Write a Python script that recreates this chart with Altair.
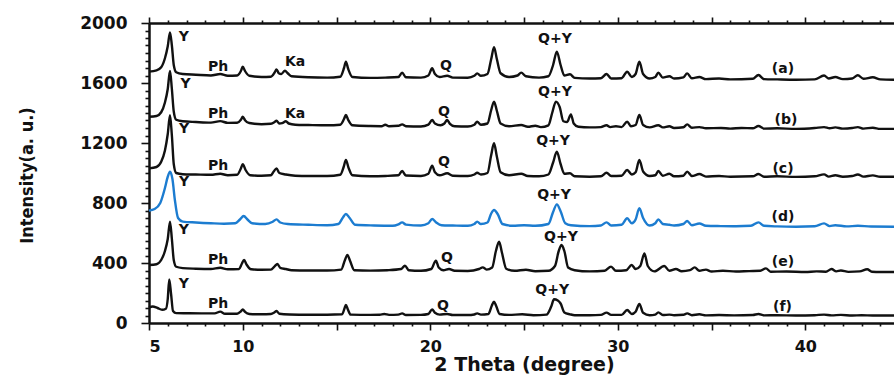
import altair as alt
import pandas as pd

# XRD patterns (2-theta in degrees, intensity in a.u., already offset for stacking)
TRACE_A = [
    (5.0, 1676), (5.4, 1684), (5.65, 1705), (5.85, 1765), (6.0, 1845), (6.12, 1937), (6.22, 1850),
    (6.32, 1720), (6.45, 1672), (6.8, 1660), (7.5, 1655), (8.3, 1650), (8.8, 1660), (9.2, 1648),
    (9.7, 1650), (9.9, 1680), (10.0, 1709), (10.12, 1680), (10.35, 1648), (11.0, 1640), (11.5, 1642),
    (11.7, 1670), (11.8, 1691), (11.92, 1665), (12.05, 1660), (12.25, 1682), (12.4, 1665), (12.6, 1645),
    (13.5, 1638), (14.5, 1636), (15.2, 1642), (15.4, 1700), (15.5, 1742), (15.62, 1695), (15.85, 1640),
    (16.8, 1634), (17.6, 1636), (18.3, 1640), (18.5, 1669), (18.7, 1638), (19.5, 1636), (19.9, 1650),
    (20.1, 1698), (20.25, 1660), (20.5, 1640), (20.9, 1648), (21.2, 1636), (22.0, 1635), (22.35, 1648),
    (22.5, 1664), (22.7, 1648), (23.05, 1660), (23.25, 1760), (23.4, 1838), (23.55, 1760), (23.75, 1665),
    (24.2, 1640), (24.65, 1650), (24.85, 1669), (25.1, 1645), (25.8, 1636), (26.3, 1645), (26.55, 1720),
    (26.75, 1809), (26.95, 1720), (27.15, 1650), (27.45, 1658), (27.7, 1634), (28.5, 1630), (29.1, 1632),
    (29.4, 1660), (29.65, 1630), (30.2, 1632), (30.5, 1675), (30.75, 1640), (30.95, 1660), (31.15, 1742),
    (31.35, 1660), (31.7, 1630), (32.0, 1640), (32.16, 1669), (32.4, 1636), (32.75, 1645), (33.0, 1630),
    (33.5, 1638), (33.7, 1664), (33.95, 1632), (34.35, 1640), (34.7, 1626), (35.4, 1630), (36.0, 1624),
    (37.2, 1628), (37.5, 1653), (37.8, 1626), (38.5, 1624), (39.5, 1622), (40.5, 1624), (41.0, 1650),
    (41.25, 1630), (41.6, 1640), (42.0, 1626), (42.5, 1630), (42.8, 1652), (43.1, 1628), (43.6, 1638),
    (44.0, 1624), (44.73, 1622),
]

TRACE_B = [
    (5.0, 1375), (5.4, 1380), (5.65, 1405), (5.85, 1470), (6.0, 1560), (6.12, 1680), (6.22, 1560),
    (6.32, 1410), (6.45, 1355), (6.8, 1345), (7.5, 1340), (8.3, 1336), (8.8, 1346), (9.2, 1334),
    (9.7, 1335), (9.9, 1355), (10.0, 1375), (10.12, 1352), (10.35, 1333), (11.0, 1325), (11.5, 1328),
    (11.7, 1340), (11.8, 1349), (11.95, 1330), (12.1, 1332), (12.3, 1345), (12.45, 1330), (12.8, 1322),
    (13.5, 1320), (14.5, 1318), (15.2, 1322), (15.4, 1360), (15.5, 1387), (15.62, 1355), (15.85, 1318),
    (16.8, 1313), (17.4, 1312), (17.6, 1322), (17.8, 1312), (18.3, 1315), (18.5, 1324), (18.7, 1312),
    (19.5, 1310), (19.9, 1322), (20.1, 1353), (20.25, 1330), (20.55, 1318), (20.75, 1330), (20.9, 1353),
    (21.05, 1328), (21.3, 1312), (22.0, 1310), (22.35, 1322), (22.5, 1342), (22.7, 1322), (23.05, 1330),
    (23.25, 1420), (23.4, 1476), (23.55, 1415), (23.75, 1330), (24.2, 1312), (24.85, 1320), (25.2, 1308),
    (25.6, 1315), (25.9, 1306), (26.3, 1318), (26.5, 1400), (26.7, 1476), (26.9, 1440), (27.1, 1345),
    (27.3, 1340), (27.5, 1391), (27.65, 1330), (27.9, 1308), (28.5, 1304), (29.1, 1306), (29.4, 1318),
    (29.6, 1306), (29.9, 1312), (30.2, 1306), (30.5, 1342), (30.7, 1312), (30.95, 1320), (31.15, 1387),
    (31.35, 1320), (31.7, 1304), (32.16, 1318), (32.4, 1304), (32.75, 1312), (33.0, 1300), (33.5, 1305),
    (33.7, 1324), (33.95, 1302), (34.35, 1306), (34.7, 1298), (35.5, 1300), (36.0, 1296), (36.6, 1300),
    (37.2, 1298), (37.5, 1313), (37.8, 1296), (38.5, 1298), (39.5, 1294), (40.5, 1300), (41.0, 1306),
    (41.3, 1298), (41.6, 1304), (42.0, 1296), (42.5, 1300), (42.8, 1306), (43.1, 1296), (43.6, 1302),
    (44.0, 1294), (44.73, 1294),
]

TRACE_C = [
    (5.0, 1031), (5.4, 1040), (5.65, 1075), (5.85, 1150), (6.0, 1260), (6.12, 1385), (6.22, 1250),
    (6.32, 1060), (6.45, 1000), (6.8, 992), (7.5, 990), (8.3, 988), (8.8, 995), (9.2, 985), (9.7, 988),
    (9.9, 1030), (10.0, 1058), (10.15, 1020), (10.4, 985), (11.0, 982), (11.5, 985), (11.65, 1010),
    (11.8, 1031), (11.95, 1000), (12.3, 990), (12.8, 982), (13.5, 980), (14.5, 980), (15.2, 988),
    (15.38, 1040), (15.5, 1087), (15.64, 1035), (15.85, 985), (16.8, 978), (17.6, 980), (18.3, 985),
    (18.5, 1013), (18.7, 983), (19.5, 980), (19.9, 995), (20.1, 1049), (20.25, 1005), (20.5, 985),
    (20.9, 998), (21.2, 982), (22.0, 980), (22.35, 990), (22.5, 1002), (22.7, 990), (23.05, 1000),
    (23.25, 1120), (23.4, 1198), (23.55, 1110), (23.75, 1005), (24.2, 985), (24.85, 995), (25.2, 980),
    (25.8, 978), (26.3, 990), (26.55, 1070), (26.75, 1142), (26.95, 1060), (27.15, 995), (27.45, 998),
    (27.7, 978), (28.5, 975), (29.1, 978), (29.4, 1002), (29.65, 980), (30.2, 982), (30.5, 1020),
    (30.75, 990), (30.95, 1005), (31.15, 1087), (31.35, 1010), (31.7, 980), (32.0, 985), (32.16, 1013),
    (32.4, 982), (32.75, 995), (33.0, 978), (33.5, 982), (33.7, 1009), (33.95, 980), (34.35, 993),
    (34.7, 976), (35.4, 980), (36.0, 975), (37.2, 978), (37.5, 993), (37.8, 975), (38.5, 978),
    (39.5, 974), (40.5, 978), (41.0, 991), (41.25, 976), (41.6, 985), (42.0, 975), (42.5, 980),
    (42.8, 990), (43.1, 976), (43.6, 984), (44.0, 975), (44.73, 975),
]

TRACE_D = [
    (5.0, 749), (5.3, 760), (5.6, 800), (5.85, 900), (6.0, 975), (6.12, 1009), (6.25, 960), (6.38, 820),
    (6.55, 700), (6.8, 676), (7.5, 670), (8.3, 665), (9.0, 662), (9.6, 665), (9.85, 690), (10.05, 713),
    (10.25, 690), (10.5, 665), (11.2, 660), (11.6, 675), (11.8, 691), (12.0, 670), (12.4, 660),
    (13.5, 655), (14.5, 652), (15.1, 660), (15.35, 705), (15.5, 727), (15.7, 700), (16.0, 655),
    (17.0, 650), (18.0, 648), (18.3, 658), (18.5, 671), (18.7, 656), (19.5, 650), (19.9, 665),
    (20.1, 693), (20.3, 672), (20.6, 652), (21.2, 650), (22.0, 648), (22.35, 660), (22.5, 676),
    (22.7, 660), (23.05, 670), (23.25, 730), (23.4, 753), (23.6, 725), (23.85, 660), (24.4, 648),
    (25.0, 652), (25.6, 648), (26.3, 660), (26.55, 740), (26.75, 791), (26.95, 745), (27.2, 665),
    (27.5, 652), (28.5, 646), (29.1, 650), (29.4, 671), (29.65, 650), (30.2, 655), (30.5, 698),
    (30.75, 665), (30.95, 690), (31.15, 765), (31.35, 700), (31.7, 650), (32.0, 665), (32.16, 691),
    (32.4, 660), (32.75, 655), (33.0, 650), (33.5, 660), (33.7, 680), (33.95, 652), (34.35, 663),
    (34.7, 648), (35.5, 646), (36.3, 645), (37.1, 648), (37.5, 671), (37.8, 648), (38.5, 644),
    (39.5, 642), (40.5, 645), (41.0, 664), (41.3, 646), (41.6, 652), (42.2, 644), (42.8, 648),
    (43.5, 643), (44.73, 642),
]

TRACE_E = [
    (5.0, 387), (5.4, 392), (5.65, 420), (5.85, 480), (6.0, 560), (6.12, 675), (6.22, 560), (6.32, 420),
    (6.45, 375), (6.8, 366), (7.5, 362), (8.3, 360), (8.8, 368), (9.2, 358), (9.8, 360), (9.95, 395),
    (10.07, 420), (10.2, 390), (10.45, 358), (11.0, 355), (11.5, 356), (11.7, 378), (11.85, 393),
    (12.0, 368), (12.3, 360), (12.6, 352), (13.5, 350), (14.5, 350), (15.25, 356), (15.45, 420),
    (15.58, 453), (15.72, 415), (15.95, 352), (16.8, 349), (17.7, 352), (18.45, 360), (18.65, 382),
    (18.85, 352), (19.5, 348), (20.05, 360), (20.3, 416), (20.45, 370), (20.7, 352), (21.0, 360),
    (21.3, 348), (22.0, 347), (22.6, 360), (22.8, 371), (23.0, 356), (23.3, 370), (23.5, 480),
    (23.67, 542), (23.82, 470), (24.05, 362), (24.5, 348), (25.1, 355), (25.6, 345), (26.3, 348),
    (26.65, 380), (26.85, 480), (27.0, 520), (27.15, 480), (27.35, 370), (27.7, 352), (28.5, 344),
    (29.3, 348), (29.64, 376), (29.9, 348), (30.45, 352), (30.74, 387), (30.95, 360), (31.2, 380),
    (31.42, 464), (31.6, 380), (31.95, 344), (32.48, 380), (32.75, 348), (33.1, 360), (33.4, 345),
    (33.85, 352), (34.1, 371), (34.35, 348), (34.7, 356), (35.0, 343), (35.6, 348), (36.3, 343),
    (37.0, 346), (37.6, 348), (37.9, 364), (38.15, 342), (39.0, 343), (40.0, 340), (40.6, 344),
    (41.1, 342), (41.4, 360), (41.65, 344), (41.9, 350), (42.3, 341), (42.9, 344), (43.3, 358),
    (43.55, 342), (44.0, 340), (44.73, 340),
]

TRACE_F = [
    (5.0, 102), (5.2, 110), (5.45, 100), (5.7, 88), (5.9, 95), (6.0, 160), (6.08, 291), (6.18, 190),
    (6.28, 80), (6.45, 66), (7.0, 65), (7.8, 64), (8.5, 64), (8.8, 76), (9.05, 62), (9.7, 62), (9.9, 78),
    (10.0, 91), (10.12, 74), (10.35, 60), (11.0, 58), (11.5, 60), (11.7, 72), (11.8, 80), (11.95, 62),
    (12.5, 57), (13.5, 55), (14.5, 55), (15.3, 58), (15.42, 95), (15.5, 120), (15.6, 92), (15.75, 56),
    (16.8, 54), (17.3, 55), (17.55, 60), (17.8, 54), (18.3, 56), (18.5, 64), (18.7, 53), (19.5, 54),
    (19.9, 60), (20.1, 91), (20.25, 68), (20.5, 56), (20.9, 60), (21.2, 53), (22.0, 53), (22.35, 57),
    (22.5, 64), (22.7, 56), (23.1, 60), (23.28, 115), (23.4, 142), (23.52, 112), (23.7, 60), (24.2, 54),
    (24.9, 58), (25.5, 52), (26.2, 56), (26.45, 110), (26.6, 158), (26.8, 150), (26.95, 130),
    (27.15, 70), (27.45, 58), (27.7, 52), (28.5, 52), (29.1, 54), (29.4, 69), (29.65, 54), (30.2, 54),
    (30.5, 87), (30.75, 60), (30.95, 75), (31.15, 127), (31.35, 68), (31.7, 52), (32.0, 56),
    (32.16, 71), (32.4, 53), (32.75, 56), (33.0, 52), (33.5, 55), (33.7, 64), (33.95, 52), (34.35, 58),
    (34.7, 51), (35.4, 53), (36.2, 51), (37.2, 53), (37.5, 60), (37.8, 51), (38.5, 52), (39.5, 50),
    (40.5, 52), (41.0, 56), (41.4, 51), (41.9, 54), (42.5, 50), (43.0, 52), (43.6, 50), (44.73, 50),
]

TRACE_NAMES = ["a", "b", "c", "d", "e", "f"]
TRACE_COLORS = ["#111111", "#111111", "#111111", "#1c7cd0", "#111111", "#111111"]

# Phase labels: text, 2-theta, intensity position
LABEL_TEXT = ["Y", "Ph", "Ka", "Q", "Q+Y", "(a)",
              "Y", "Ph", "Ka", "Q", "Q+Y", "(b)",
              "Y", "Ph", "Q", "Q+Y", "(c)",
              "Y", "Q+Y", "(d)",
              "Y", "Ph", "Q", "Q+Y", "(e)",
              "Y", "Ph", "Q", "Q+Y", "(f)"]
LABEL_THETA = [6.85, 8.68, 12.79, 20.84, 26.65, 38.81,
               6.95, 8.68, 12.79, 20.73, 26.65, 38.97,
               6.87, 8.68, 20.73, 26.55, 38.81,
               6.87, 26.6, 38.81,
               6.85, 8.68, 20.89, 26.97, 38.81,
               6.85, 8.68, 20.68, 26.5, 38.78]
LABEL_INTENSITY = [1907, 1707, 1740, 1713, 1893, 1693,
                   1593, 1393, 1393, 1407, 1540, 1353,
                   1293, 1047, 1073, 1213, 1027,
                   940, 853, 707,
                   620, 420, 433, 573, 407,
                   260, 127, 113, 220, 107]

rows = []
for name, pts in zip(TRACE_NAMES, [TRACE_A, TRACE_B, TRACE_C, TRACE_D, TRACE_E, TRACE_F]):
    for t, v in pts:
        rows.append({"trace": name, "theta": t, "intensity": v})
patterns = pd.DataFrame(rows)
labels = pd.DataFrame({"text": LABEL_TEXT, "theta": LABEL_THETA, "intensity": LABEL_INTENSITY})

X_MIN, X_MAX = 5, 44.73
x_scale = alt.Scale(domain=[X_MIN, X_MAX], nice=False, zero=False)
y_scale = alt.Scale(domain=[0, 2000], nice=False)

BOLD_FONT = "DejaVu Sans"
NARROW_FONT = "DejaVu Sans Condensed, Liberation Sans Narrow, Arial Narrow, sans-serif"

y_axis = alt.Axis(
    values=list(range(0, 2001, 50)),
    labelExpr="datum.value % 400 === 0 ? datum.label : ''",
    format="d",
    tickSize={"condition": {"test": "datum.value % 400 === 0", "value": 8}, "value": 4},
    labelPadding=14,
    labelOverlap=False,
    labelFont=BOLD_FONT, labelFontWeight="bold", labelFontSize=17,
    title="Intensity(a. u.)",
    titleFont=NARROW_FONT,
    titleFontWeight=600, titleFontSize=18,
    titleX=-122, titleY=152, titleAngle=-90, titleAlign="center", titleBaseline="middle",
    grid=False,
)

x_bottom = alt.Axis(
    orient="bottom",
    values=list(range(5, 45)),
    labelExpr="datum.value === 5 || datum.value % 10 === 0 ? datum.label : ''",
    format="d",
    tickSize={"condition": {"test": "datum.value % 5 === 0", "value": 7}, "value": 3},
    labelPadding=8,
    labelOverlap=False,
    labelFont=BOLD_FONT, labelFontWeight="bold", labelFontSize=16,
    title="2 Theta (degree)",
    titleFont=BOLD_FONT, titleFontWeight="bold", titleFontSize=19,
    titleX=375, titleY=47, titleAlign="center", titleBaseline="alphabetic",
    grid=False,
)

x_top = alt.Axis(
    orient="top",
    values=list(range(5, 45)),
    labels=False,
    tickSize={"condition": {"test": "datum.value % 5 === 0", "value": 6}, "value": 3},
    title=None,
    grid=False,
)

lines = alt.Chart(patterns).mark_line(interpolate="monotone", strokeWidth=2.4, strokeJoin="round").encode(
    x=alt.X("theta:Q", scale=x_scale, axis=x_bottom),
    y=alt.Y("intensity:Q", scale=y_scale, axis=y_axis),
    color=alt.Color("trace:N", scale=alt.Scale(domain=TRACE_NAMES, range=TRACE_COLORS), legend=None),
    detail="trace:N",
)

top_frame = alt.Chart(pd.DataFrame({"theta": [X_MIN], "intensity": [0]})).mark_point(opacity=0).encode(
    x=alt.X("theta:Q", scale=x_scale, axis=x_top),
    y=alt.Y("intensity:Q", scale=y_scale, axis=y_axis),
)

tags = alt.Chart(labels).mark_text(
    font=BOLD_FONT, fontWeight="bold", fontSize=14, color="#111111", align="center", baseline="middle"
).encode(
    x=alt.X("theta:Q", scale=x_scale, axis=None),
    y=alt.Y("intensity:Q", scale=y_scale, axis=y_axis),
    text="text:N",
)

chart = (
    alt.layer(lines, top_frame, tags)
    .resolve_axis(x="independent")
    .properties(
        width=745, height=300,
        autosize=alt.AutoSizeParams(type="none"),
        padding={"left": 149, "top": 23, "right": 0, "bottom": 53},
    )
    .configure_view(strokeWidth=0)
    .configure_axis(
        domainColor="#111111", domainWidth=2.5, tickColor="#111111", tickWidth=1.6,
        labelColor="#111111", titleColor="#111111",
    )
)

chart.save("out.html", embed_options={"renderer": "svg", "actions": False})
